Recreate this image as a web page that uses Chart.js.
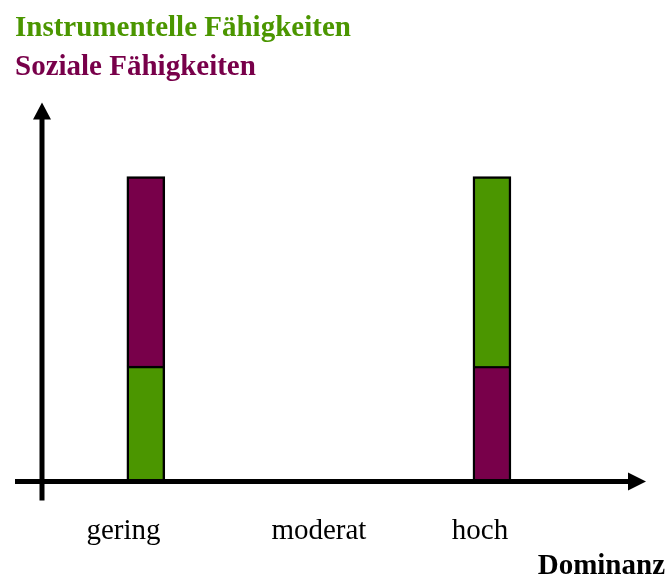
<!DOCTYPE html>
<html>
<head>
<meta charset="utf-8">
<script src="https://cdn.jsdelivr.net/npm/chart.js@4"></script>
<style>
  html, body { margin: 0; padding: 0; background: #ffffff; }
  #wrap { width: 668px; height: 580px; }
</style>
</head>
<body>
<div id="wrap"><canvas id="c" width="668" height="580"></canvas></div>
<script>
// ---- data ----
const categories = ['gering', 'moderat', 'hoch'];
const seriesNames = ['Instrumentelle Fähigkeiten', 'Soziale Fähigkeiten'];
const instrumentell = [3, 0, 5];
const sozial = [5, 0, 3];
// which series sits at the bottom of each bar
const instrumentellUnten = [true, true, false];
const axisTitle = 'Dominanz';

// ---- build floating-bar data from the values ----
function ranges(own, other, ownBottom) {
  return own.map((v, i) => {
    if (!v) return null;
    const lo = ownBottom[i] ? 0 : other[i];
    return { x: i + 1, y: [lo, lo + v] };
  }).filter(Boolean);
}
const sozialUnten = instrumentellUnten.map(b => !b);

const GREEN = '#4B9600';
const PURPLE = '#78004A';
const SERIF = "'Liberation Serif', 'Times New Roman', serif";

const axesPlugin = {
  id: 'axesArrows',
  afterDatasetsDraw(chart) {
    const ctx = chart.ctx;
    const a = chart.chartArea;
    const yS = chart.scales.y;
    const x0 = a.left;
    const y0 = yS.getPixelForValue(0) + 1.5;
    ctx.save();
    ctx.fillStyle = '#000';
    ctx.strokeStyle = '#000';
    ctx.lineWidth = 5;
    // x axis
    const tipX = a.right - 19;
    ctx.beginPath();
    ctx.moveTo(x0 - 27, y0);
    ctx.lineTo(tipX - 14, y0);
    ctx.stroke();
    ctx.beginPath();
    ctx.moveTo(tipX, y0);
    ctx.lineTo(tipX - 18, y0 - 9);
    ctx.lineTo(tipX - 18, y0 + 9);
    ctx.closePath();
    ctx.fill();
    // y axis
    const tipY = a.top + 2;
    ctx.beginPath();
    ctx.moveTo(x0, y0 + 19);
    ctx.lineTo(x0, tipY + 14);
    ctx.stroke();
    ctx.beginPath();
    ctx.moveTo(x0, tipY);
    ctx.lineTo(x0 - 9, tipY + 17);
    ctx.lineTo(x0 + 9, tipY + 17);
    ctx.closePath();
    ctx.fill();
    ctx.restore();
  }
};

// label positions relative to the bar centres (layout only)
const labelShift = [-0.129, 0, -0.069];

new Chart(document.getElementById('c'), {
  type: 'bar',
  data: {
    datasets: [
      {
        label: seriesNames[0],
        data: ranges(instrumentell, sozial, instrumentellUnten),
        backgroundColor: GREEN,
        borderColor: '#000',
        borderWidth: 2.5,
        borderSkipped: 'start',
        barThickness: 38,
        grouped: false
      },
      {
        label: seriesNames[1],
        data: ranges(sozial, instrumentell, sozialUnten),
        backgroundColor: PURPLE,
        borderColor: '#000',
        borderWidth: 2.5,
        borderSkipped: 'start',
        barThickness: 38,
        grouped: false
      }
    ]
  },
  options: {
    responsive: false,
    animation: false,
    layout: { padding: { left: 15, right: 3, top: 0, bottom: 0 } },
    plugins: {
      legend: { display: false },
      tooltip: { enabled: false },
      title: {
        display: true,
        text: seriesNames[0],
        color: GREEN,
        align: 'start',
        font: { family: SERIF, size: 29, weight: 'bold' },
        padding: { top: 11, bottom: 4 }
      },
      subtitle: {
        display: true,
        text: seriesNames[1],
        color: PURPLE,
        align: 'start',
        font: { family: SERIF, size: 29, weight: 'bold' },
        padding: { top: 0, bottom: 16 }
      }
    },
    scales: {
      x: {
        type: 'linear',
        offset: false,
        min: 0.4,
        max: 4,
        grid: { display: false, drawTicks: false },
        border: { display: false },
        afterBuildTicks(scale) {
          scale.ticks = categories.map((c, i) => ({ value: i + 1 + labelShift[i] }));
        },
        afterFit(scale) { scale.height = 100; },
        ticks: {
          color: '#000',
          font: { family: SERIF, size: 29 },
          padding: 34,
          maxRotation: 0,
          autoSkip: false,
          callback: (v, i) => categories[i]
        },
        title: {
          display: true,
          text: axisTitle,
          align: 'end',
          color: '#000',
          font: { family: SERIF, size: 29, weight: 'bold' },
          padding: { top: 0, bottom: -4 }
        }
      },
      y: {
        min: 0,
        max: 10,
        grid: { display: false, drawTicks: false },
        border: { display: false },
        ticks: { display: false },
        afterFit(scale) { scale.width = 27; }
      }
    }
  },
  plugins: [axesPlugin]
});
</script>
</body>
</html>
